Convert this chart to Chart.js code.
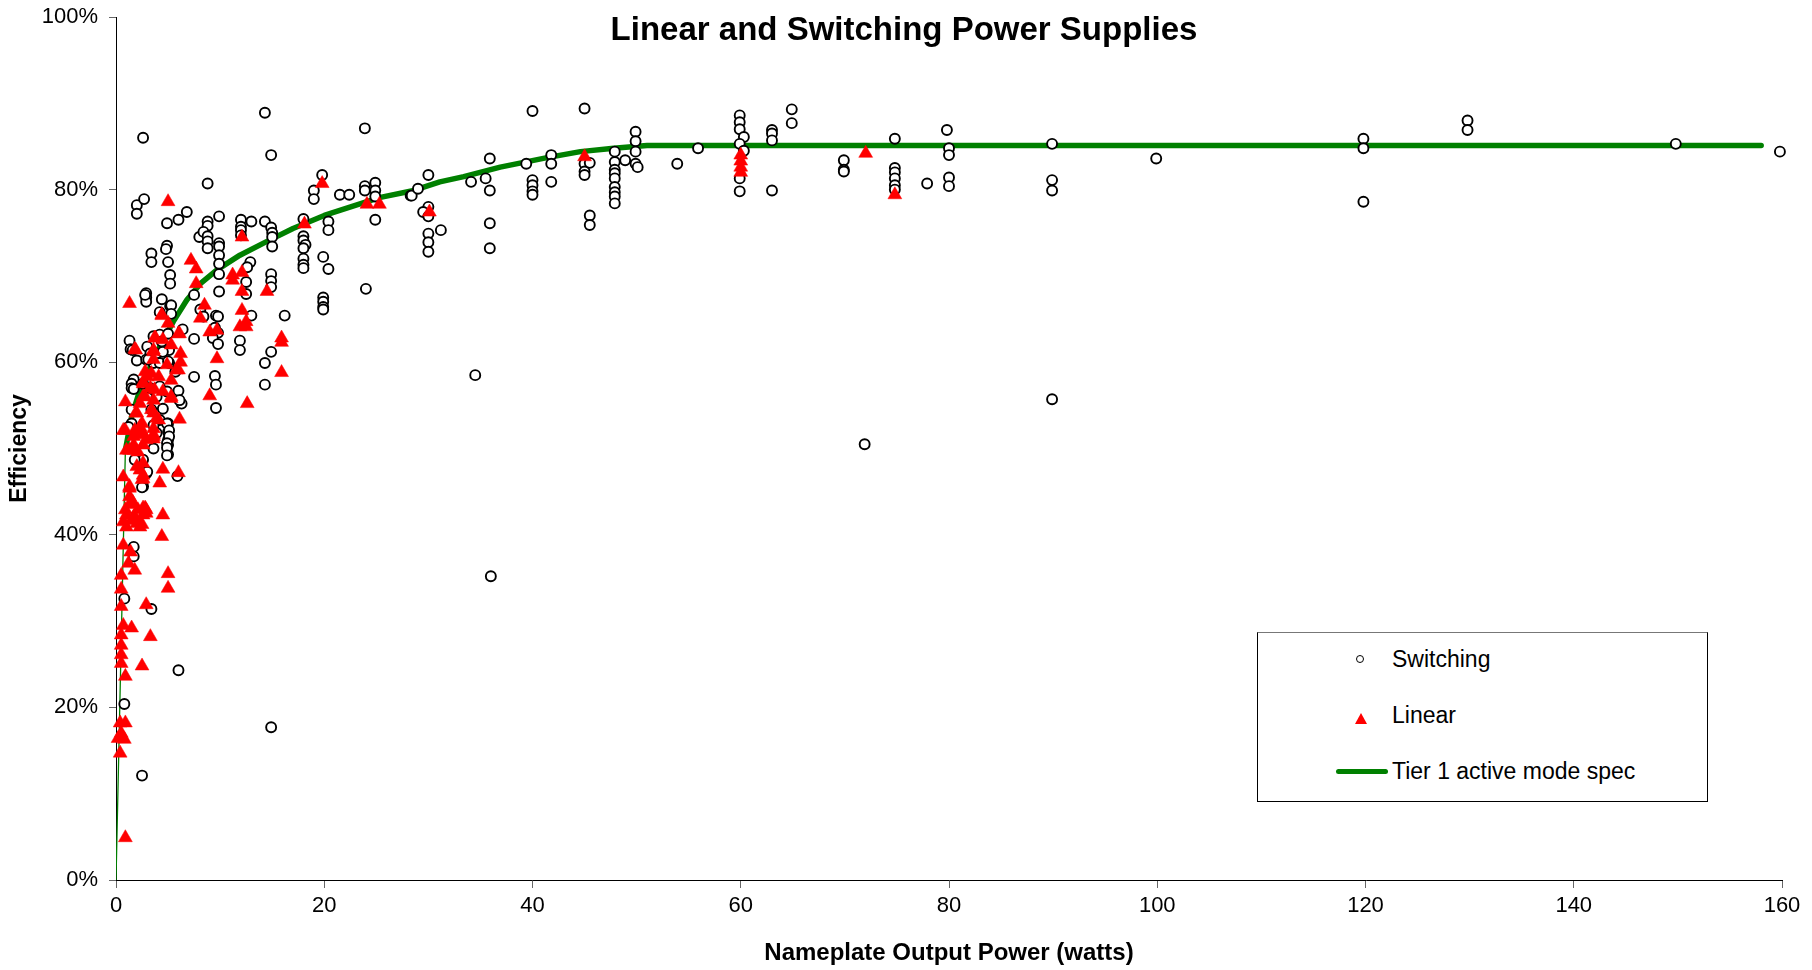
<!DOCTYPE html>
<html>
<head>
<meta charset="utf-8">
<title>Linear and Switching Power Supplies</title>
<script src="https://cdn.jsdelivr.net/npm/chart.js@4.4.1/dist/chart.umd.min.js"></script>
<style>
body{margin:0;background:#fff;font-family:"Liberation Sans",Arial,sans-serif;}
#wrap{position:relative;width:1812px;height:970px;}
#title{position:absolute;left:0;top:10px;width:1808px;text-align:center;font-weight:bold;font-size:33px;line-height:38px;color:#000;}
#legend{position:absolute;left:1257px;top:632px;width:449px;height:168px;border:1px solid #000;border-top-color:#777;background:#fff;}
.lg{position:absolute;font-size:23px;line-height:26px;color:#000;white-space:nowrap;}
.circ{position:absolute;width:6px;height:6px;border:1.6px solid #000;border-radius:50%;background:#fff;}
.tri{position:absolute;width:0;height:0;border-left:6px solid transparent;border-right:6px solid transparent;border-bottom:11px solid #ff0000;}
.gline{position:absolute;height:5px;background:#008000;border-radius:3px;}
</style>
</head>
<body>
<div id="wrap">
<canvas id="myChart" width="1812" height="970"></canvas>
<div id="title">Linear and Switching Power Supplies</div>
<div id="legend"></div>
<span class="circ" style="left:1356px;top:655px;"></span>
<span class="lg" style="left:1392px;top:646px;">Switching</span>
<span class="tri" style="left:1355px;top:713px;"></span>
<span class="lg" style="left:1392px;top:702px;">Linear</span>
<span class="gline" style="left:1336px;top:769px;width:52px;"></span>
<span class="lg" style="left:1392px;top:758px;">Tier 1 active mode spec</span>
</div>
<script>
// nameplate power (W), efficiency (%)
const switching = [
  [2.6,86.0],[14.3,88.9],[14.9,84.0],[8.8,80.7],[2.0,78.2],[2.0,77.2],[2.7,78.9],[4.9,76.1],[6.0,76.5],[6.8,77.4],
  [8.8,76.3],[8.8,75.8],[9.9,76.9],[12.0,76.5],[13.0,76.3],[12.0,75.7],[14.3,76.3],[14.9,75.6],[18.0,76.6],[19.0,79.9],
  [19.0,78.9],[19.8,81.7],[20.4,76.3],[20.4,75.3],[21.5,79.4],[22.4,79.4],[23.9,87.1],[23.9,80.4],[24.9,80.8],[24.9,79.9],
  [23.9,79.9],[24.9,79.2],[24.9,76.5],[24.0,68.5],[28.3,79.3],
  [3.4,72.6],[3.4,71.6],[4.9,73.5],[4.8,73.1],[5.0,71.6],[5.2,70.1],[5.2,69.1],[2.9,68.0],[2.9,67.5],[2.9,67.0],
  [4.4,67.3],[5.2,66.5],[8.0,74.5],[8.4,75.1],[8.8,74.6],[8.8,74.0],[8.8,73.2],[9.9,73.8],[9.9,73.4],[9.9,72.4],
  [9.9,71.4],[9.9,70.2],[9.9,68.2],[7.5,67.8],[12.0,75.3],[12.0,74.7],[12.5,69.3],
  [15.0,75.0],[15.0,74.5],[15.0,73.4],[18.0,74.6],[18.0,74.1],[18.2,73.6],[18.0,73.2],[18.0,72.0],[18.0,71.3],
  [18.0,70.9],[19.9,72.2],[20.4,70.8],[19.9,67.5],[19.9,67.0],[19.9,66.4],[19.9,66.1],[12.9,71.6],[12.6,71.0],[12.5,67.9],
  [13.0,65.4],[14.9,70.2],[14.9,69.4],[14.9,68.7],[16.2,65.4],[11.9,62.5],[11.9,61.4],[14.9,61.2],[14.3,59.9],[14.3,57.4],
  [9.6,65.4],[9.8,65.3],[9.5,64.0],[9.8,63.4],[9.3,62.8],[9.8,62.1],[7.5,62.7],[7.5,58.3],[9.5,58.4],[9.6,57.4],
  [9.6,54.7],[6.4,63.8],[6.0,56.7],[6.3,55.2],[5.9,46.8],[2.8,67.8],[5.3,66.6],[5.3,65.6],[4.2,65.8],[1.3,62.5],
  [1.4,61.5],[2.0,60.2],[1.7,58.0],[1.5,57.5],[1.5,57.0],[1.5,54.5],[1.5,52.9],[3.0,61.8],[3.3,61.0],[3.6,63.0],
  [4.2,63.2],[4.4,62.4],[5.0,63.3],[5.1,61.4],[5.1,59.9],[2.9,60.3],[3.6,59.9],[2.6,57.5],[3.6,56.8],[3.9,56.0],
  [4.5,54.6],[5.0,52.9],[5.0,51.9],[5.0,51.0],[5.0,50.4],[5.0,49.3],[4.2,53.3],[3.9,51.8],[3.6,50.0],[2.6,48.7],
  [2.6,45.6],[2.9,47.1],[1.7,38.6],[1.7,37.5],[0.8,32.6],[3.4,31.4],[6.0,24.3],[0.8,20.4],[14.9,17.7],[2.5,12.1],
  [1.6,61.4],[3.1,60.3],[3.9,61.0],[4.5,61.2],[4.2,59.9],[5.0,60.1],[5.7,58.9],[8.1,66.1],[8.4,65.3],[1.7,56.9],
  [3.3,57.0],[4.2,57.2],[4.9,56.6],[6.1,55.6],[1.2,52.5],[3.6,52.7],[3.4,54.5],[4.9,52.9],[5.1,52.1],[5.1,51.4],
  [4.9,50.6],[4.9,50.1],[4.9,49.2],[1.8,48.7],[3.0,47.3],[2.5,45.5],
  [28.4,79.3],[29.0,80.1],[30.0,81.7],[30.0,78.0],[29.5,77.4],[30.0,76.9],[31.2,75.3],[30.0,74.9],[30.0,73.9],[30.0,72.8],
  [34.1,80.9],[35.5,81.3],[35.9,83.6],[35.9,79.9],[35.9,76.1],[35.9,73.2],[34.5,58.5],[36.0,35.2],[40.0,89.1],[39.4,83.0],
  [40.0,81.1],[40.0,80.5],[40.0,79.8],[40.0,79.4],[41.8,84.0],[41.8,83.0],[41.8,80.9],[45.0,89.4],[45.0,83.0],[45.0,82.1],
  [45.0,81.7],[45.5,83.1],[45.5,77.0],[45.5,75.9],[47.9,84.4],[47.9,83.2],[47.9,82.3],[47.9,81.9],[47.9,81.3],[47.9,80.3],
  [47.9,79.7],[47.9,79.2],[47.9,78.4],[48.9,83.4],[49.9,86.7],[49.9,85.6],[49.9,84.4],[49.9,83.0],[50.1,82.6],[53.9,83.0],
  [55.9,84.8],[59.9,88.6],[59.9,87.8],[59.9,87.0],[60.3,86.1],[59.9,85.3],[60.3,84.5],[59.9,81.3],[59.9,79.8],[63.0,86.9],
  [63.0,86.5],[63.0,85.7],[63.0,79.9],[64.9,89.3],[64.9,87.7],[69.9,83.4],[69.9,82.3],[69.9,82.1],[71.9,50.5],[74.8,85.9],
  [74.8,82.5],[74.8,82.0],[74.8,81.3],[74.8,80.5],[74.8,80.0],[77.9,80.7],[79.8,86.9],[80.0,84.8],[80.0,84.0],[80.0,81.4],
  [80.0,80.4],[89.9,85.3],[89.9,81.1],[89.9,79.9],[89.9,55.7],[99.9,83.6],[119.8,85.9],[119.8,84.8],[119.8,78.6],[129.8,88.0],
  [129.8,86.9],[149.8,85.3],[159.8,84.4]
];
const linear = [
  [5.0,78.6],[12.1,74.5],[18.1,76.0],[19.8,80.7],[24.1,78.3],[25.3,78.3],[7.2,71.8],[7.7,70.8],[7.7,69.1],[11.2,70.1],
  [11.2,69.5],[12.1,70.4],[12.1,68.2],[14.5,68.2],[12.1,66.0],[12.5,64.7],[12.5,64.1],[11.9,64.1],[8.5,66.6],[8.1,65.1],
  [9.0,63.5],[9.7,63.7],[9.7,60.4],[15.9,62.8],[15.9,62.3],[15.9,58.8],[9.0,56.1],[12.6,55.2],[1.3,66.8],[4.4,65.4],
  [5.0,64.5],[3.8,62.8],[4.5,62.6],[6.1,63.3],[5.3,62.0],[6.2,61.0],[6.2,60.0],[4.9,59.7],[5.8,59.1],[5.3,57.9],
  [5.3,55.8],[4.5,56.6],[6.1,53.4],[1.9,61.4],[3.6,61.4],[3.6,60.3],[4.1,58.3],[3.0,58.3],[2.6,57.5],[2.6,56.0],
  [3.6,55.6],[3.6,54.1],[3.6,52.3],[4.1,53.3],[2.3,55.2],[1.9,54.1],[2.3,52.5],[2.6,51.7],[2.9,51.0],[2.6,50.4],
  [1.7,49.8],[2.1,49.6],[2.0,47.9],[2.6,46.9],[2.5,46.4],[0.9,55.4],[0.9,52.1],[1.0,49.8],[0.7,46.7],[3.6,51.4],
  [1.3,45.4],[1.3,44.4],[1.3,43.5],[4.5,47.6],[4.2,46.0],[4.5,42.3],[4.4,39.8],[2.9,42.9],[2.6,42.3],[2.0,41.3],
  [1.7,42.1],[1.0,42.3],[1.5,43.6],[2.1,42.9],[2.6,43.1],[2.9,42.5],[1.5,41.7],[2.3,40.9],[0.7,38.8],[1.4,38.0],
  [1.2,36.7],[1.8,35.9],[0.5,35.3],[5.0,35.5],[5.0,33.8],[0.5,33.7],[0.5,31.7],[2.9,31.9],[0.7,29.5],[1.5,29.2],
  [0.5,28.4],[0.5,27.2],[3.3,28.2],[0.5,26.1],[0.5,25.1],[2.5,24.8],[0.9,23.6],[0.4,18.2],[0.9,18.2],[0.5,17.0],
  [0.2,16.4],[0.8,16.3],[0.4,14.7],[0.9,4.9],
  [2.6,51.6],[3.6,51.1],[1.7,50.4],[1.3,49.8],[2.6,48.3],[2.3,47.5],[6.0,47.2],[2.6,46.5],[1.3,45.6],[1.6,43.8],
  [2.8,43.1],[0.9,42.9],[2.0,41.7],[0.7,41.5],[1.0,40.9],[2.5,41.2],
  [4.4,65.5],[6.0,63.3],[3.7,62.8],[6.0,59.1],[1.8,61.5],[3.6,61.2],[2.8,58.9],[3.4,58.7],[2.6,57.7],[3.3,57.0],
  [3.7,56.8],[5.3,56.0],[2.8,56.0],[2.0,54.1],[3.4,54.5],[2.5,52.9],[3.9,53.5],[1.8,52.1],[2.5,51.9],[3.6,51.6],
  [0.7,52.1],[1.7,51.4],
  [30.1,77.4],[45.0,83.8],[60.0,84.0],[60.0,83.3],[60.0,82.6],[60.0,82.0],[72.0,84.2],[74.8,79.4]
];
// tier 1 spec line
const specX = [0, 0.9, 1.5, 2.3, 3.3, 4.2, 5.5, 6.8, 8.1, 9.7, 11.9, 14.5, 17.0, 20.0, 24.1, 25.4, 28.6, 31.1, 33.4, 36.9, 41.4, 44.6, 47.8, 51.0, 158];
const specY = [0, 49.8, 53.7, 56.8, 59.5, 61.8, 64.7, 67.2, 69.1, 70.7, 72.4, 74.0, 75.5, 77.0, 78.6, 79.1, 79.9, 80.9, 81.5, 82.6, 83.7, 84.4, 84.8, 85.1, 85.1];
const xTicks = [0, 20, 40, 60, 80, 100, 120, 140, 160];
const yTicks = [0, 20, 40, 60, 80, 100];

const fam = '"Liberation Sans", Arial, sans-serif';
const toPts = arr => arr.map(p => ({x: p[0], y: p[1]}));

let mychart = document.getElementById("myChart").getContext('2d');
let chart = new Chart(mychart, {
    type: 'scatter',
    data: {
        datasets: [{
            label: 'Linear',
            data: toPts(linear),
            pointStyle: 'triangle',
            pointRadius: 8,
            backgroundColor: '#ff0000',
            borderColor: '#ff0000',
            borderWidth: 0.5,
            clip: false,
            order: 1
        }, {
            label: 'Switching',
            data: toPts(switching),
            pointStyle: 'circle',
            pointRadius: 5,
            backgroundColor: '#ffffff',
            borderColor: '#000000',
            borderWidth: 1.9,
            clip: false,
            order: 2
        }, {
            label: 'Tier 1 active mode spec',
            data: specX.map((x, i) => ({x: x, y: specY[i]})),
            showLine: true,
            pointRadius: 0,
            borderColor: '#008000',
            borderWidth: 5.5,
            borderJoinStyle: 'round',
            borderCapStyle: 'round',
            segment: {
                borderWidth: c => c.p1.parsed.x < 1 ? 1.3 : 5.5
            },
            order: 3
        }]
    },
    options: {
        responsive: false,
        animation: false,
        layout: {padding: {top: 17, right: 30, bottom: 2, left: 0}},
        plugins: {legend: {display: false}, tooltip: {enabled: false}, title: {display: false}},
        scales: {
            x: {
                type: 'linear', min: 0, max: 160,
                afterBuildTicks: s => { s.ticks = xTicks.map(v => ({value: v})); },
                afterFit: s => { s.height = 88; },
                ticks: {color: '#000', font: {size: 22, family: fam}, padding: 5, maxRotation: 0},
                grid: {drawOnChartArea: false, tickLength: 8, color: '#666'},
                border: {color: '#000', width: 1},
                title: {display: true, text: 'Nameplate Output Power (watts)', color: '#000',
                        font: {size: 24, weight: 'bold', family: fam}, padding: {top: 0, bottom: 0}}
            },
            y: {
                type: 'linear', min: 0, max: 100,
                afterBuildTicks: s => { s.ticks = yTicks.map(v => ({value: v})); },
                afterFit: s => { s.width = 116; s.paddingTop = 0; s.paddingBottom = 0; },
                ticks: {color: '#000', font: {size: 22, family: fam}, padding: 11, callback: v => v + '%'},
                grid: {drawOnChartArea: false, tickLength: 7, color: '#666'},
                border: {color: '#000', width: 1},
                title: {display: true, text: 'Efficiency', color: '#000',
                        font: {size: 23, weight: 'bold', family: fam}, padding: {top: 6, bottom: 0}}
            }
        }
    }
});
</script>
</body>
</html>
